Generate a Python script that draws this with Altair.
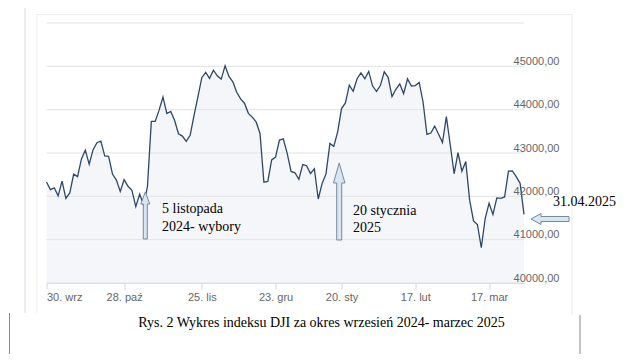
import altair as alt
import pandas as pd

# DJI closing values, trading days 30 Sep 2024 - 28 Mar 2025 (ordinal axis)
values = [
    42330, 42156, 42196, 42011, 42352, 41954, 42080, 42512, 42454, 42863,
    43065, 42740, 43077, 43239, 43275, 42931, 42924, 42514, 42374, 42114,
    42387, 42233, 42141, 41763, 42052, 41794, 42222, 43729, 43729, 43989,
    44293, 43911, 43958, 43751, 43445, 43390, 43269, 43408, 43870, 44297,
    44737, 44860, 44722, 44911, 44782, 44705, 45014, 44766, 44643, 44402,
    44248, 44149, 43915, 43828, 43717, 43450, 42327, 42343, 42840, 42907,
    43297, 43325, 42992, 42574, 42544, 42392, 42732, 42707, 42528, 42635,
    41938, 42297, 42518, 43222, 43153, 43488, 44026, 44157, 44566, 44424,
    44714, 44850, 44714, 44882, 44545, 44421, 44556, 44873, 44747, 44303,
    44470, 44594, 44368, 44711, 44546, 44556, 44627, 44177, 43428, 43461,
    43621, 43433, 43240, 43841, 43191, 42521, 43006, 42579, 42802, 41912,
    41434, 41350, 40814, 41488, 41842, 41582, 41965, 41954, 41985, 42583,
    42588, 42455, 42300, 41584,
]
day_index = list(range(len(values)))

tick_idx = [0, 20, 40, 59, 76, 95, 114]
tick_labels = ["30. wrz", "28. paź", "25. lis", "23. gru", "20. sty", "17. lut", "17. mar"]
y_ticks = [40000, 41000, 42000, 43000, 44000, 45000, 46000]

ann_text = ["5 listopada", "2024- wybory", "20 stycznia", "2025", "31.04.2025"]
ann_x = [29.75, 29.75, 78.95, 78.95, 130.5]
ann_y = [41708, 41292, 41662, 41269, 41869]

arrow_x = [25.45, 75.4, 129.7]
arrow_y = [41558, 41881, 41477]
arrow_dir = ["up", "up", "left"]
arrow_len = [47, 77, 38]
arrow_head_len = [12, 20, 10]
arrow_head_w = [9, 11.5, 11]
arrow_shaft_w = [4, 5, 5]

caption = "Rys. 2 Wykres indeksu DJI za okres wrzesień 2024- marzec 2025"

W, H = 477.5, 260
SERIF = "'Liberation Serif', 'Times New Roman', serif"


def arrow_path(length, head_len, head_w, shaft_w, direction):
    s = 2.0 / length
    hl = head_len * s
    hw = head_w / 2 * s
    sw = shaft_w / 2 * s
    pts = [(0, -1), (hw, -1 + hl), (sw, -1 + hl), (sw, 1), (-sw, 1),
           (-sw, -1 + hl), (-hw, -1 + hl)]
    if direction == "left":
        pts = [(y, x) for x, y in pts]
    return "M" + "L".join(f"{x:.4f},{y:.4f}" for x, y in pts) + "Z"


df = pd.DataFrame({"i": day_index, "v": values})
grid_df = pd.DataFrame({"g": y_ticks})
ann = pd.DataFrame({"t": ann_text, "x": ann_x, "y": ann_y})
arr = pd.DataFrame({
    "x": arrow_x, "y": arrow_y,
    "path": [arrow_path(l, h, w, s, d) for l, h, w, s, d in
             zip(arrow_len, arrow_head_len, arrow_head_w, arrow_shaft_w, arrow_dir)],
    "size": [l * l for l in arrow_len],
})
one = pd.DataFrame({"a": [0]})

label_expr = ("[" + ",".join(f"'{t}'" for t in tick_labels) + "][indexof(["
              + ",".join(str(t) for t in tick_idx) + "], datum.value)]")

xs = alt.Scale(domain=[0, len(values) - 1], nice=False, zero=False)
ys = alt.Scale(domain=[40000, 46000], nice=False, zero=False)

x_axis = alt.Axis(values=tick_idx, labelExpr=label_expr, grid=False,
                  domainColor="#ccd6eb", tickColor="#ccd6eb", tickSize=6,
                  labelPadding=2, labelFlush=True, title=None)
y_axis = alt.Axis(orient="right", values=y_ticks, domain=False, ticks=False,
                  grid=False, title=None, zindex=1,
                  labelAlign="right", labelPadding=35, labelBaseline="middle",
                  labelOffset=-5,
                  labelExpr="datum.value >= 46000 ? '' : replace(format(datum.value, '.2f'), '.', ',')")

base = alt.Chart(df)
area = base.mark_area(color="#f4f6fa", clip=True).encode(
    x=alt.X("i:Q", scale=xs, axis=x_axis),
    y=alt.Y("v:Q", scale=ys, axis=y_axis),
    y2=alt.datum(40000),
)
grid = alt.Chart(grid_df).mark_rule(color="#e3e3e3", strokeWidth=1).encode(
    y=alt.Y("g:Q", scale=ys, axis=y_axis),
    x=alt.value(0), x2=alt.value(W),
)
line = base.mark_line(color="#2f4766", strokeWidth=1.3).encode(
    x=alt.X("i:Q", scale=xs, axis=x_axis), y=alt.Y("v:Q", scale=ys, axis=y_axis))

arrows = alt.Chart(arr).mark_point(filled=True, fill="#d6e6f3", stroke="#7b8896",
                                   strokeWidth=1, fillOpacity=1, strokeOpacity=1).encode(
    x=alt.X("x:Q", scale=xs, axis=x_axis),
    y=alt.Y("y:Q", scale=ys, axis=y_axis),
    shape=alt.Shape("path:N", scale=None),
    size=alt.Size("size:Q", scale=None),
)
texts = alt.Chart(ann).mark_text(align="left", baseline="middle", font=SERIF,
                                 fontSize=14, color="#000000").encode(
    x=alt.X("x:Q", scale=xs, axis=x_axis),
    y=alt.Y("y:Q", scale=ys, axis=y_axis),
    text="t:N",
)


def rule(x, x2, y, y2, color, width=1):
    return alt.Chart(one).mark_rule(color=color, strokeWidth=width).encode(
        x=alt.value(x), x2=alt.value(x2), y=alt.value(y), y2=alt.value(y2))


frame = [
    rule(-21.5, -21.5, -23, 290, "#ececec", 2),
    rule(-9.5, -9.5, -9, 290, "#ededed"),
    rule(525.5, 525.5, -9, 292, "#ededed"),
    rule(-9.5, 525.5, -8.5, -8.5, "#ededed"),
    rule(-37, -37, 290, 340, "#8a8a8a"),
    rule(533.5, 533.5, 292, 340, "#8a8a8a"),
]
cap = alt.Chart(one).mark_text(font=SERIF, fontSize=14, color="#000000",
                               align="center", baseline="middle").encode(
    x=alt.value(275), y=alt.value(300), text=alt.value(caption))

chart = alt.layer(*frame, area, grid, line, arrows, texts, cap).properties(
    width=W, height=H,
    autosize=alt.AutoSizeParams(type="none"),
    padding={"left": 38.5, "top": 15, "right": 99, "bottom": 71},
).configure_view(stroke=None).configure_axis(
    labelFont="Liberation Sans", labelFontSize=11, labelColor="#666666")

chart.save("out.html", embed_options={"renderer": "svg", "actions": False})
